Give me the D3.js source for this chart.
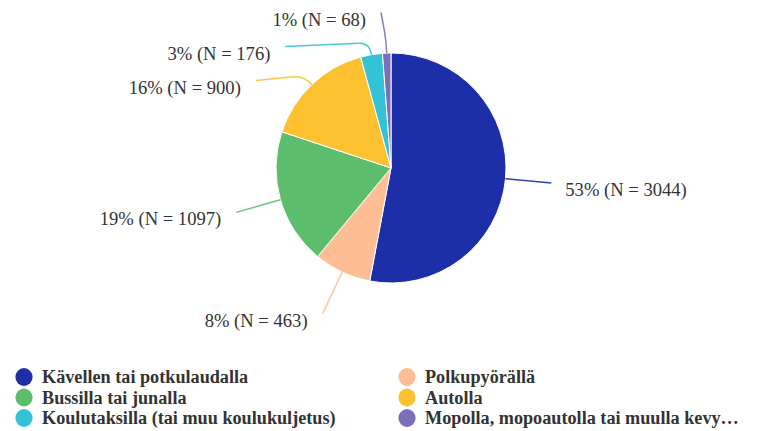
<!DOCTYPE html>
<html>
<head>
<meta charset="utf-8">
<script src="https://cdn.jsdelivr.net/npm/d3@7"></script>
<style>
  html, body { margin: 0; padding: 0; background: #fff; }
  svg { display: block; }
  text { font-family: "Liberation Serif", Tinos, "Times New Roman", "DejaVu Serif", serif; }
</style>
</head>
<body>
<svg id="chart" width="757" height="431"></svg>
<script>
// ---- data ----
const categories = [
  "Kävellen tai potkulaudalla",
  "Polkupyörällä",
  "Bussilla tai junalla",
  "Autolla",
  "Koulutaksilla (tai muu koulukuljetus)",
  "Mopolla, mopoautolla tai muulla kevy…"
];
const counts = [3044, 463, 1097, 900, 176, 68];
const percentLabels = ["53%", "8%", "19%", "16%", "3%", "1%"];
const colors = ["#1c2ea8", "#fdbe96", "#5cbe6c", "#fdc02f", "#34c2d6", "#7b6fba"];

// ---- layout ----
const W = 757, H = 431;
const cx = 391, cy = 168, r = 115;
const elbowR = r + 12, labelR = 161;
const minGap = 34, topLimit = 12.5;

const svg = d3.select("#chart");
const data = categories.map((c, i) => ({ name: c, value: counts[i], pct: percentLabels[i], color: colors[i], i }));

const pie = d3.pie().value(d => d.value).sort(null);
const arcs = pie(data);
const arc = d3.arc().innerRadius(0).outerRadius(r);

const g = svg.append("g").attr("transform", `translate(${cx},${cy})`);

g.selectAll("path.slice")
  .data(arcs)
  .enter().append("path")
  .attr("class", "slice")
  .attr("d", arc)
  .attr("fill", d => d.data.color)
  .attr("stroke", "#fff")
  .attr("stroke-width", 1);

// label positions
const pt = (a, rad) => [rad * Math.sin(a), -rad * Math.cos(a)];
const labels = arcs.map(d => {
  const mid = (d.startAngle + d.endAngle) / 2;
  const side = Math.sin(mid) >= 0 ? 1 : -1;
  const p2 = pt(mid, labelR);
  return { d, mid, side, p0: pt(mid, r), p1: pt(mid, elbowR), x: p2[0], y: p2[1], ny: p2[1] };
});

// resolve collisions on each side, from top downward
[-1, 1].forEach(s => {
  const group = labels.filter(l => l.side === s).sort((a, b) => a.y - b.y);
  let prev = null;
  group.forEach(l => {
    let y = l.y;
    if (y + cy < topLimit) y = topLimit - cy;
    if (prev !== null && y < prev + minGap) y = prev + minGap;
    if (Math.abs(y - l.ny) > 10) {
      const dx = Math.sqrt(Math.max(0, labelR * labelR - y * y));
      l.x = s * dx;
    } else if (Math.abs(y - l.ny) > 0.5) {
      l.x -= 4; // bend the top leader toward its label
    }
    l.y = y;
    prev = y;
  });
});

const lineG = g.append("g");
labels.forEach(l => {
  const p = d3.path();
  const [x0, y0] = l.p0, [x1, y1] = l.p1;
  const x2 = l.x, y2 = l.y;
  p.moveTo(x0, y0);
  const d12 = Math.hypot(x2 - x1, y2 - y1) || 1;
  const k = Math.min(10, d12 * 0.4);
  const bx = x1 + (x2 - x1) / d12 * k, by = y1 + (y2 - y1) / d12 * k;
  p.quadraticCurveTo(x1, y1, bx, by);
  p.lineTo(x2, y2);
  lineG.append("path")
    .attr("d", p.toString())
    .attr("fill", "none")
    .attr("stroke", l.d.data.color)
    .attr("stroke-opacity", 0.9)
    .attr("stroke-width", 1.5);

  g.append("text")
    .attr("x", x2 + (l.side > 0 ? 14 : -15))
    .attr("y", y2 + 13)
    .attr("text-anchor", l.side > 0 ? "start" : "end")
    .attr("font-size", 18.6)
    .attr("fill", "#333")
    .text(`${l.d.data.pct} (N = ${l.d.data.value})`);
});

// ---- legend ----
const legendCols = [24, 407];
const legendRow0 = 377, legendRowStep = 20.5;
const legend = svg.append("g");
data.forEach((d, i) => {
  const col = i % 2, row = Math.floor(i / 2);
  const x = legendCols[col], y = legendRow0 + row * legendRowStep;
  legend.append("ellipse")
    .attr("cx", x).attr("cy", y).attr("rx", 8.6).attr("ry", 9)
    .attr("fill", d.color);
  legend.append("text")
    .attr("x", x + 18)
    .attr("y", y + 6)
    .attr("font-weight", "bold")
    .attr("font-size", 18.2)
    .attr("fill", "#333")
    .text(d.name);
});
</script>
</body>
</html>
